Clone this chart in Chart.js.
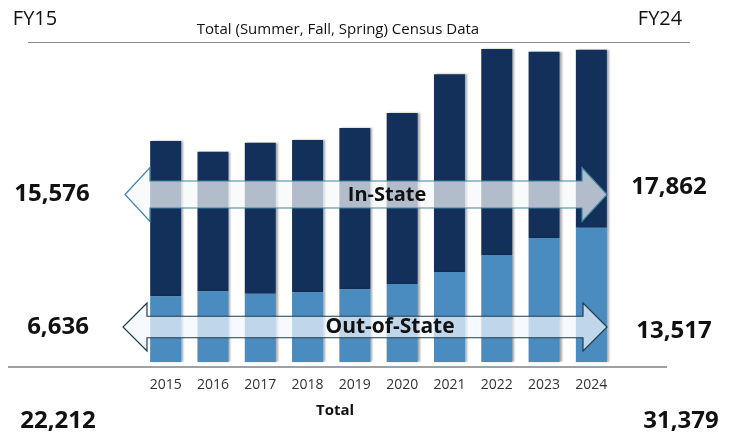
<!DOCTYPE html>
<html>
<head>
<meta charset="utf-8">
<script src="https://cdn.jsdelivr.net/npm/chart.js@4"></script>
<style>
  body { margin: 0; background: #fff; }
  #wrap { width: 738px; height: 438px; }
</style>
</head>
<body>
<div id="wrap"><canvas id="census" width="738" height="438"></canvas></div>
<script>
const years = ["2015", "2016", "2017", "2018", "2019", "2020", "2021", "2022", "2023", "2024"];
const outOfState = [6636, 7130, 6890, 7030, 7330, 7860, 9070, 10770, 12480, 13517];
const inState = [15576, 14015, 15160, 15290, 16190, 17170, 19845, 20685, 18705, 17862];
const fyLabels = ["FY15", "FY24"];
const titleText = "Total (Summer, Fall, Spring) Census Data";

const navy = "#12305a";
const lightBlue = "#4a8bc0";
const fmt = (n) => n.toLocaleString("en-US");
const last = years.length - 1;
const totalFirst = inState[0] + outOfState[0];
const totalLast = inState[last] + outOfState[last];

function arrow(ctx, x1, x2, yc, shaftH, headH, headW, fill, stroke) {
  ctx.beginPath();
  ctx.moveTo(x1, yc);
  ctx.lineTo(x1 + headW, yc - headH / 2);
  ctx.lineTo(x1 + headW, yc - shaftH / 2);
  ctx.lineTo(x2 - headW, yc - shaftH / 2);
  ctx.lineTo(x2 - headW, yc - headH / 2);
  ctx.lineTo(x2, yc);
  ctx.lineTo(x2 - headW, yc + headH / 2);
  ctx.lineTo(x2 - headW, yc + shaftH / 2);
  ctx.lineTo(x1 + headW, yc + shaftH / 2);
  ctx.lineTo(x1 + headW, yc + headH / 2);
  ctx.closePath();
  ctx.fillStyle = fill;
  ctx.fill();
  ctx.lineWidth = 1.2;
  ctx.strokeStyle = stroke;
  ctx.stroke();
}

function text(ctx, str, x, y, font, align) {
  ctx.font = font;
  ctx.textAlign = align || "center";
  ctx.textBaseline = "middle";
  ctx.fillStyle = "#111";
  ctx.fillText(str, x, y);
}

const shadowPlugin = {
  id: "barShadow",
  beforeDatasetsDraw(chart) {
    const ctx = chart.ctx;
    ctx.save();
    ctx.shadowColor = "rgba(0,0,0,0.35)";
    ctx.shadowBlur = 2;
    ctx.shadowOffsetX = 2;
    ctx.shadowOffsetY = 0;
  },
  afterDatasetsDraw(chart) {
    chart.ctx.restore();
  },
};

const overlayPlugin = {
  id: "overlay",
  afterDraw(chart) {
    const ctx = chart.ctx;
    ctx.save();

    // rules
    ctx.strokeStyle = "#8a8a8a";
    ctx.lineWidth = 1;
    ctx.beginPath();
    ctx.moveTo(28, 42.5);
    ctx.lineTo(690, 42.5);
    ctx.stroke();
    ctx.strokeStyle = "#a0a0a0";
    ctx.lineWidth = 2;
    ctx.beginPath();
    ctx.moveTo(8, 367);
    ctx.lineTo(667, 367);
    ctx.stroke();

    // arrows
    arrow(ctx, 125, 607, 194.5, 27, 54, 25, "rgba(246,248,251,0.7)", "#3a86a0");
    arrow(ctx, 123, 607, 327, 21.5, 48, 24, "rgba(242,247,252,0.7)", "#1e3f4e");
    text(ctx, "In-State", 387, 195, "bold 20px 'Open Sans'");
    text(ctx, "Out-of-State", 390, 327.5, "bold 21px 'Open Sans'");

    // header
    text(ctx, fyLabels[0], 35, 19, "20px 'Open Sans'");
    text(ctx, fyLabels[1], 660, 19, "20px 'Open Sans'");
    text(ctx, titleText, 338, 30, "15px 'Open Sans'");

    // side values
    text(ctx, fmt(inState[0]), 52, 194, "bold 24px 'Open Sans'");
    text(ctx, fmt(outOfState[0]), 58, 327, "bold 24px 'Open Sans'");
    text(ctx, fmt(inState[last]), 669, 187, "bold 24px 'Open Sans'");
    text(ctx, fmt(outOfState[last]), 674, 331, "bold 24px 'Open Sans'");
    text(ctx, fmt(totalFirst), 58, 421, "bold 24px 'Open Sans'");
    text(ctx, fmt(totalLast), 681, 421, "bold 24px 'Open Sans'");
    text(ctx, "Total", 335, 411, "bold 15px 'Open Sans'");

    ctx.restore();
  },
};

new Chart(document.getElementById("census"), {
  type: "bar",
  data: {
    labels: years,
    datasets: [
      { label: "Out-of-State", data: outOfState, backgroundColor: lightBlue },
      { label: "In-State", data: inState, backgroundColor: navy },
    ],
  },
  options: {
    responsive: false,
    animation: false,
    layout: { padding: { left: 142, right: 123, top: 43.6, bottom: 0 } },
    datasets: { bar: { barPercentage: 0.655, categoryPercentage: 1 } },
    plugins: { legend: { display: false }, tooltip: { enabled: false } },
    scales: {
      x: {
        stacked: true,
        grid: { display: false, drawTicks: false },
        border: { display: false },
        ticks: { color: "#333", font: { family: "'Open Sans'", size: 14 }, padding: 14 },
        afterFit: (scale) => { scale.height = 75.7; },
      },
      y: { stacked: true, display: false, min: 0, max: 32000 },
    },
  },
  plugins: [shadowPlugin, overlayPlugin],
});
</script>
</body>
</html>
